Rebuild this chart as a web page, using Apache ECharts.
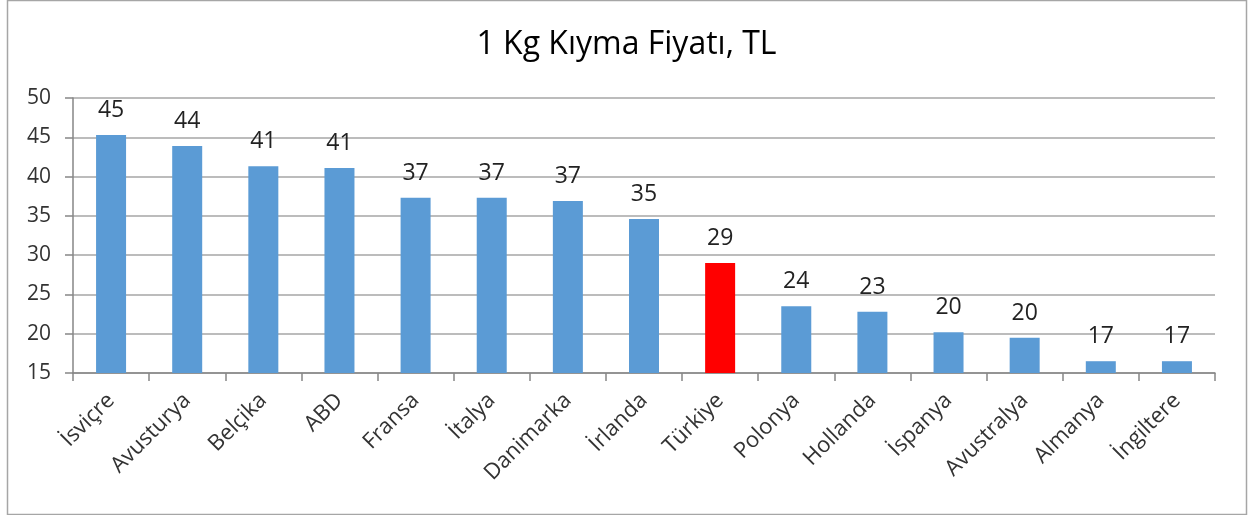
<!DOCTYPE html>
<html>
<head>
<meta charset="utf-8">
<script src="https://cdn.jsdelivr.net/npm/echarts@6/dist/echarts.min.js"></script>
<style>
html,body{margin:0;padding:0;background:#fff;}
#c{width:1253px;height:515px;}
</style>
</head>
<body>
<div id="c"></div>
<script>
const title = '1 Kg Kıyma Fiyatı, TL';
const categories = ['İsviçre','Avusturya','Belçika','ABD','Fransa','İtalya','Danimarka','İrlanda','Türkiye','Polonya','Hollanda','İspanya','Avustralya','Almanya','İngiltere'];
const values = [45.3, 43.9, 41.3, 41.1, 37.3, 37.3, 36.9, 34.6, 29.0, 23.5, 22.8, 20.2, 19.5, 16.5, 16.5];
const highlight = 'Türkiye';
const yTicks = [15, 20, 25, 30, 35, 40, 45, 50];

const FONT = 'Open Sans';
const chart = echarts.init(document.getElementById('c'), null, {renderer:'canvas'});
chart.setOption({
  animation: false,
  backgroundColor: '#fff',
  graphic: [{
    type: 'rect', left: 5, top: -2,
    shape: {x: 0, y: 0, width: 1239, height: 514},
    style: {fill: 'none', stroke: '#a6a6a6', lineWidth: 1.5}, z: 100, silent: true
  }],
  title: {
    text: title, left: 'center', top: 24,
    textStyle: {fontFamily: FONT, fontSize: 32, fontWeight: 'normal', color: '#000'}
  },
  grid: {left: 73, right: 38, top: 98, bottom: 142},
  xAxis: {
    type: 'category', data: categories,
    axisLine: {lineStyle: {color: '#868686', width: 1.5}},
    axisTick: {show: true, alignWithLabel: false, length: 8, lineStyle: {color: '#868686', width: 1.5}},
    axisLabel: {rotate: 45, interval: 0, fontFamily: FONT, fontSize: 22, color: '#333', margin: 24}
  },
  yAxis: {
    type: 'value', min: yTicks[0], max: yTicks[yTicks.length-1], interval: 5,
    axisLine: {show: true, lineStyle: {color: '#868686', width: 1.5}},
    axisTick: {show: true, length: 8, inside: false, lineStyle: {color: '#868686', width: 1.5}},
    splitLine: {lineStyle: {color: '#a6a6a6', width: 1.5}},
    axisLabel: {fontFamily: FONT, fontSize: 21, color: '#333', margin: 22}
  },
  series: [{
    type: 'bar',
    barWidth: 30,
    data: values.map((v, i) => ({
      value: v,
      itemStyle: {color: categories[i] === highlight ? '#ff0000' : '#5b9bd5'}
    })),
    label: {
      show: true, position: 'top', distance: 13,
      fontFamily: FONT, fontSize: 23, color: '#222',
      formatter: p => Math.round(p.value)
    }
  }]
});
</script>
</body>
</html>
